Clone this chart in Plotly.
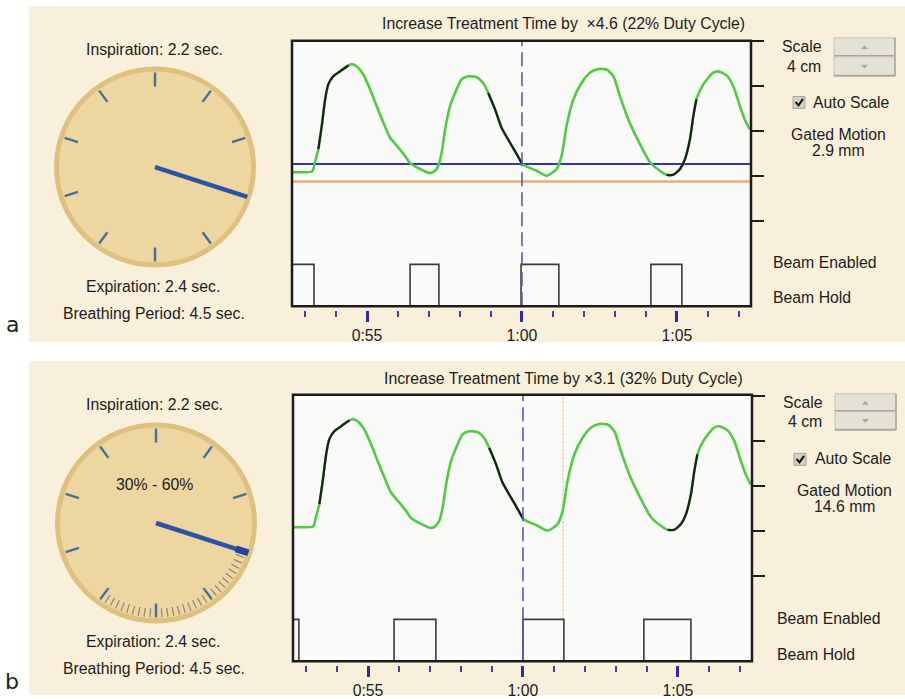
import math
import plotly.graph_objects as go

W, H = 905, 699
FONT = "Liberation Sans, Arial, sans-serif"
TEXT_SIZE = 15.8

# ---------------------------------------------------------------- data
# Respiratory trace (same recording in both panels): time in s, motion in mm
TIME_S = [52.59, 53.22, 53.27, 53.32, 53.43, 53.54, 53.65, 53.75, 53.91, 54.13,
          54.40, 54.51, 54.67, 54.88, 55.10, 55.31, 55.53, 55.74, 55.96, 56.23,
          56.39, 56.71, 57.03, 57.19, 57.30, 57.41, 57.52, 57.68, 57.84, 58.05,
          58.27, 58.54, 58.75, 58.91, 59.13, 59.34, 59.61, 59.83, 60.01, 60.20,
          60.47, 60.80, 60.96, 61.12, 61.28, 61.44, 61.66, 61.92, 62.19, 62.46,
          62.73, 62.95, 63.16, 63.43, 63.75, 64.13, 64.45, 64.67, 64.88, 65.10,
          65.26, 65.42, 65.53, 65.63, 65.85, 66.17, 66.33, 66.60, 66.82, 67.03,
          67.19, 67.35]
MOTION_MM = [10.8, 10.9, 11.5, 13.0, 15.9, 21.1, 27.0, 30.3, 32.1, 33.2,
             34.5, 34.8, 34.3, 32.5, 29.2, 25.5, 21.8, 18.5, 16.7, 14.4,
             12.8, 11.5, 10.6, 11.1, 12.2, 15.2, 20.3, 25.5, 28.4, 31.4,
             32.1, 31.9, 30.6, 28.4, 24.8, 20.7, 17.4, 14.8, 12.6, 11.9,
             11.1, 10.0, 10.6, 11.5, 14.4, 21.1, 27.0, 30.6, 32.9, 33.7,
             33.6, 32.1, 27.7, 22.5, 17.8, 13.0, 11.1, 10.2, 10.2, 11.5,
             13.7, 18.1, 23.3, 27.0, 30.3, 32.9, 33.2, 32.3, 29.9, 25.5,
             22.5, 20.3]
# Portions of the trace drawn in black (start, end), s
DARK_SPANS_S = [(53.43, 54.40), (58.91, 60.01), (64.67, 65.63)]

TIME_RANGE_S = (52.58, 67.39)
MAJOR_TICKS_S = [55, 60, 65]
MAJOR_TICK_TEXT = ["0:55", "1:00", "1:05"]
MINOR_TICKS_S = list(range(53, 68))
SCALE_TICKS_MM = [0, 10, 20, 30, 40]
CURRENT_TIME_S = 60.0

# (a) amplitude gating
GATE_THRESHOLD_MM = 12.6
BASELINE_MM = 8.7
BEAM_A_WINDOWS_S = [(52.58, 53.29), (56.39, 57.32), (59.97, 61.19), (64.16, 65.16)]
# (b) phase gating
BEAM_B_WINDOWS_S = [(52.58, 52.77), (55.84, 57.19), (60.00, 61.32), (63.90, 65.42)]
PHASE_MARK_S = 61.29

# Dial: breathing phase as a fraction of the cycle
DIAL_TICK_COUNT = 10
HAND_PHASE = 0.30
PHASE_WINDOW = (0.30, 0.60)

TITLES = ["Increase Treatment Time by  \u00d74.6 (22% Duty Cycle)",
          "Increase Treatment Time by \u00d73.1 (32% Duty Cycle)"]
GATED_MOTION = ["2.9 mm", "14.6 mm"]
INSPIRATION_S, EXPIRATION_S, PERIOD_S = 2.2, 2.4, 4.5

# ---------------------------------------------------------------- helpers
def fx(px):
    return px / W


def fy(py):
    return 1 - py / H


def prect(x0, y0, x1, y1, **kw):
    return dict(type="rect", xref="paper", yref="paper",
                x0=fx(x0), x1=fx(x1), y0=fy(y1), y1=fy(y0), **kw)


def ppath(points, closed=True, **kw):
    d = "M " + " L ".join(f"{fx(x):.5f},{fy(y):.5f}" for x, y in points)
    if closed:
        d += " Z"
    return dict(type="path", xref="paper", yref="paper", path=d, **kw)


annotations = []


def label(text, x, y, size=TEXT_SIZE, xanchor="center", family=FONT, color="#1c1c1c"):
    annotations.append(dict(text=text, x=fx(x), y=fy(y), xref="paper", yref="paper",
                            xanchor=xanchor, yanchor="middle", showarrow=False,
                            font=dict(family=family, size=size, color=color)))


def gate_path(windows, low, high):
    xs, ys = [TIME_RANGE_S[0]], [low]
    for s, e in windows:
        xs += [s, s, e, e]
        ys += [low, high, high, low]
    xs.append(TIME_RANGE_S[1])
    ys.append(low)
    return xs, ys


fig = go.Figure()
shapes = []
layout = {}

# beige panels
shapes.append(prect(29, 6, W, 344, fillcolor="#F9F0DC", line_width=0, layer="below"))
shapes.append(prect(29, 363, W, H, fillcolor="#F9F0DC", line_width=0, layer="below"))

PX_PER_MM = 4.525
GATE_HIGH_MM, GATE_LOW_MM = -9.7, -19.0

panels = [
    dict(frame=(292, 41, 751, 308), zero_px=222, tick_y=312, dial=(155, 168),
         windows=BEAM_A_WINDOWS_S, top=0),
    dict(frame=(293, 397, 752, 665), zero_px=579, tick_y=669, dial=(156, 526),
         windows=BEAM_B_WINDOWS_S, top=357),
]

for i, p in enumerate(panels):
    n = "" if i == 0 else str(i + 1)
    xa, ya = "x" + n, "y" + n
    x0, y0, x1, y1 = p["frame"]
    off = p["top"]

    layout["xaxis" + n] = dict(
        domain=[fx(x0), fx(x1)], range=list(TIME_RANGE_S), anchor="free",
        position=fy(p["tick_y"]), showgrid=False, zeroline=False, showline=False,
        tickmode="array", tickvals=MAJOR_TICKS_S, ticktext=MAJOR_TICK_TEXT,
        ticks="outside", ticklen=11, tickwidth=3, tickcolor="#2c2ca0",
        tickfont=dict(family=FONT, size=TEXT_SIZE, color="#1c1c1c"),
        minor=dict(tickmode="array", tickvals=MINOR_TICKS_S, ticks="outside",
                   ticklen=6, tickwidth=2, tickcolor="#4040aa", showgrid=False),
        fixedrange=True)
    layout["yaxis" + n] = dict(
        domain=[fy(y1), fy(y0)],
        range=[(p["zero_px"] - y1) / PX_PER_MM, (p["zero_px"] - y0) / PX_PER_MM],
        anchor=xa, side="right", showgrid=False, zeroline=False, showline=False,
        tickmode="array", tickvals=SCALE_TICKS_MM, ticks="outside", ticklen=12,
        tickwidth=2, tickcolor="#1c1c1c", showticklabels=False, fixedrange=True)

    # plot area fill
    shapes.append(dict(type="rect", xref=xa + " domain", yref=ya + " domain",
                       x0=0, x1=1, y0=0, y1=1, fillcolor="#FAFAF8", line_width=0,
                       layer="below"))

    if i == 0:
        for lvl, col, wdt in [(BASELINE_MM, "#E8AE7A", 2.5), (GATE_THRESHOLD_MM, "#3434A8", 2)]:
            fig.add_trace(go.Scatter(x=list(TIME_RANGE_S), y=[lvl, lvl], xaxis=xa, yaxis=ya,
                                     mode="lines", line=dict(color=col, width=wdt),
                                     hoverinfo="skip", showlegend=False))
    else:
        fig.add_trace(go.Scatter(x=[PHASE_MARK_S, PHASE_MARK_S],
                                 y=[GATE_HIGH_MM, layout["yaxis" + n]["range"][1]],
                                 xaxis=xa, yaxis=ya, mode="lines",
                                 line=dict(color="#E2A878", width=1, dash="2px,2px"),
                                 hoverinfo="skip", showlegend=False))

    # current-time marker
    shapes.append(dict(type="line", xref=xa, yref=ya + " domain", x0=CURRENT_TIME_S,
                       x1=CURRENT_TIME_S, y0=0, y1=1,
                       line=dict(color="#5a5aae", width=1.6, dash="14px,6px")))

    # beam enabled / hold
    gx, gy = gate_path(p["windows"], GATE_LOW_MM, GATE_HIGH_MM)
    fig.add_trace(go.Scatter(x=gx, y=gy, xaxis=xa, yaxis=ya, mode="lines",
                             line=dict(color="#3a3a3a", width=1.6),
                             hoverinfo="skip", showlegend=False))

    # breathing trace
    fig.add_trace(go.Scatter(x=TIME_S, y=MOTION_MM, xaxis=xa, yaxis=ya, mode="lines",
                             line=dict(color="#4ECD40", width=2.6, shape="spline",
                                       smoothing=0.6),
                             hoverinfo="skip", showlegend=False))
    for s, e in DARK_SPANS_S:
        sx = [t for t in TIME_S if s <= t <= e]
        sy = [m for t, m in zip(TIME_S, MOTION_MM) if s <= t <= e]
        fig.add_trace(go.Scatter(x=sx, y=sy, xaxis=xa, yaxis=ya, mode="lines",
                                 line=dict(color="#1e1e1e", width=2.2, shape="spline",
                                           smoothing=0.6),
                                 hoverinfo="skip", showlegend=False))

    # frame
    shapes.append(dict(type="rect", xref=xa + " domain", yref=ya + " domain",
                       x0=0, x1=1, y0=0, y1=1, line=dict(color="#1c1c1c", width=2.5),
                       layer="above"))

    # ---------------- dial
    dn = str(i + 3)
    dxa, dya = "x" + dn, "y" + dn
    cx, cy = p["dial"]
    layout["xaxis" + dn] = dict(domain=[fx(cx - 110), fx(cx + 110)], range=[-110, 110],
                                visible=False, fixedrange=True, anchor=dya)
    layout["yaxis" + dn] = dict(domain=[fy(cy + 110), fy(cy - 110)], range=[-110, 110],
                                visible=False, fixedrange=True, anchor=dxa)
    shapes.append(dict(type="circle", xref=dxa, yref=dya, x0=-98.5, x1=98.5,
                       y0=-98.5, y1=98.5, fillcolor="#EDD6A0",
                       line=dict(color="#DEC07F", width=5), layer="below"))

    def seg(phase, r0, r1):
        a = 2 * math.pi * phase
        return [r0 * math.sin(a), r1 * math.sin(a), None], [r0 * math.cos(a), r1 * math.cos(a), None]

    majors = [k / DIAL_TICK_COUNT for k in range(DIAL_TICK_COUNT)]
    if i == 1:
        mx, my = [], []
        lo, hi = round(PHASE_WINDOW[0] * 100), round(PHASE_WINDOW[1] * 100)
        for pc in range(lo, hi + 1):
            if pc % 10 == 0:
                continue
            sx, sy = seg(pc / 100, 86, 95)
            mx += sx
            my += sy
        fig.add_trace(go.Scatter(x=mx, y=my, xaxis=dxa, yaxis=dya, mode="lines",
                                 line=dict(color="#958A78", width=1.3),
                                 hoverinfo="skip", showlegend=False))
    tx, ty = [], []
    for ph in majors:
        sx, sy = seg(ph, 81, 95)
        tx += sx
        ty += sy
    fig.add_trace(go.Scatter(x=tx, y=ty, xaxis=dxa, yaxis=dya, mode="lines",
                             line=dict(color="#41709C", width=2.4),
                             hoverinfo="skip", showlegend=False))
    hx, hy = seg(HAND_PHASE, 0, 97)
    fig.add_trace(go.Scatter(x=hx, y=hy, xaxis=dxa, yaxis=dya, mode="lines",
                             line=dict(color="#2D54A4", width=4.5),
                             hoverinfo="skip", showlegend=False))
    if i == 1:
        kx, ky = seg(PHASE_WINDOW[0], 84, 97)
        fig.add_trace(go.Scatter(x=kx, y=ky, xaxis=dxa, yaxis=dya, mode="lines",
                                 line=dict(color="#2442A0", width=7),
                                 hoverinfo="skip", showlegend=False))
        label(f"{round(PHASE_WINDOW[0]*100)}% - {round(PHASE_WINDOW[1]*100)}%", cx - 2, cy - 39)

    # dial captions
    label(f"Inspiration: {INSPIRATION_S} sec.", 154, 50 + off)
    label(f"Expiration: {EXPIRATION_S} sec.", 153, 288 + off)
    label(f"Breathing Period: {PERIOD_S} sec.", 154, 315 + off)

    # title
    label(TITLES[i], 563, 24 + off)

    # scale buttons
    bx0, bx1 = 834 + i, 895 + i
    by0, bym, by1 = 38 + off + i, 57 + off, 77 + off - i
    for ya0, ya1 in [(by0, bym), (bym, by1)]:
        shapes.append(prect(bx0, ya0, bx1, ya1, fillcolor="#E4E1D7",
                            line=dict(color="#C6C2B6", width=1)))
        shapes.append(ppath([(bx0, ya1 - 1), (bx1, ya1 - 1), (bx1, ya0)], closed=False,
                            line=dict(color="#A9A59A", width=1.5)))
    acx = (bx0 + bx1) / 2
    au = (by0 + bym) / 2
    ad = (bym + by1) / 2
    shapes.append(ppath([(acx - 3.5, au + 2), (acx + 3.5, au + 2), (acx, au - 2)],
                        fillcolor="#ADA99F", line_width=0))
    shapes.append(ppath([(acx - 3.5, ad - 2), (acx + 3.5, ad - 2), (acx, ad + 2)],
                        fillcolor="#ADA99F", line_width=0))
    label("Scale", 802 + i, 47 + off + i)
    label("4 cm", 804 + i, 67 + off)

    # auto-scale checkbox
    cbx, cby = 793 + i, 97 + off + 2 * i
    shapes.append(prect(cbx, cby, cbx + 12, cby + 12, fillcolor="#D3D0CA",
                        line=dict(color="#A6A39C", width=1)))
    shapes.append(ppath([(cbx + 2.5, cby + 5.5), (cbx + 5.5, cby + 9), (cbx + 10, cby + 2.5)],
                        closed=False, line=dict(color="#111111", width=2)))
    label("Auto Scale", 811 + 2 * i, 103 + off + 1 * i, xanchor="left")
    label("Gated Motion", 838 + 6 * i, 135 + off + i)
    label(GATED_MOTION[i], 838 + 6 * i, 151 + off + i)
    label("Beam Enabled", 771 + 4 * i, 264 + off + i, xanchor="left")
    label("Beam Hold", 771 + 4 * i, 299 + off + 2 * i, xanchor="left")

label("a", 12, 326, size=22, family="DejaVu Sans, sans-serif", color="#222222")
label("b", 12, 685, size=22, family="DejaVu Sans, sans-serif", color="#222222")

fig.update_layout(width=W, height=H, margin=dict(l=0, r=0, t=0, b=0),
                  paper_bgcolor="#FFFFFF", plot_bgcolor="rgba(0,0,0,0)",
                  shapes=shapes, annotations=annotations, showlegend=False,
                  hovermode=False, **layout)

fig.write_html("out.html")
